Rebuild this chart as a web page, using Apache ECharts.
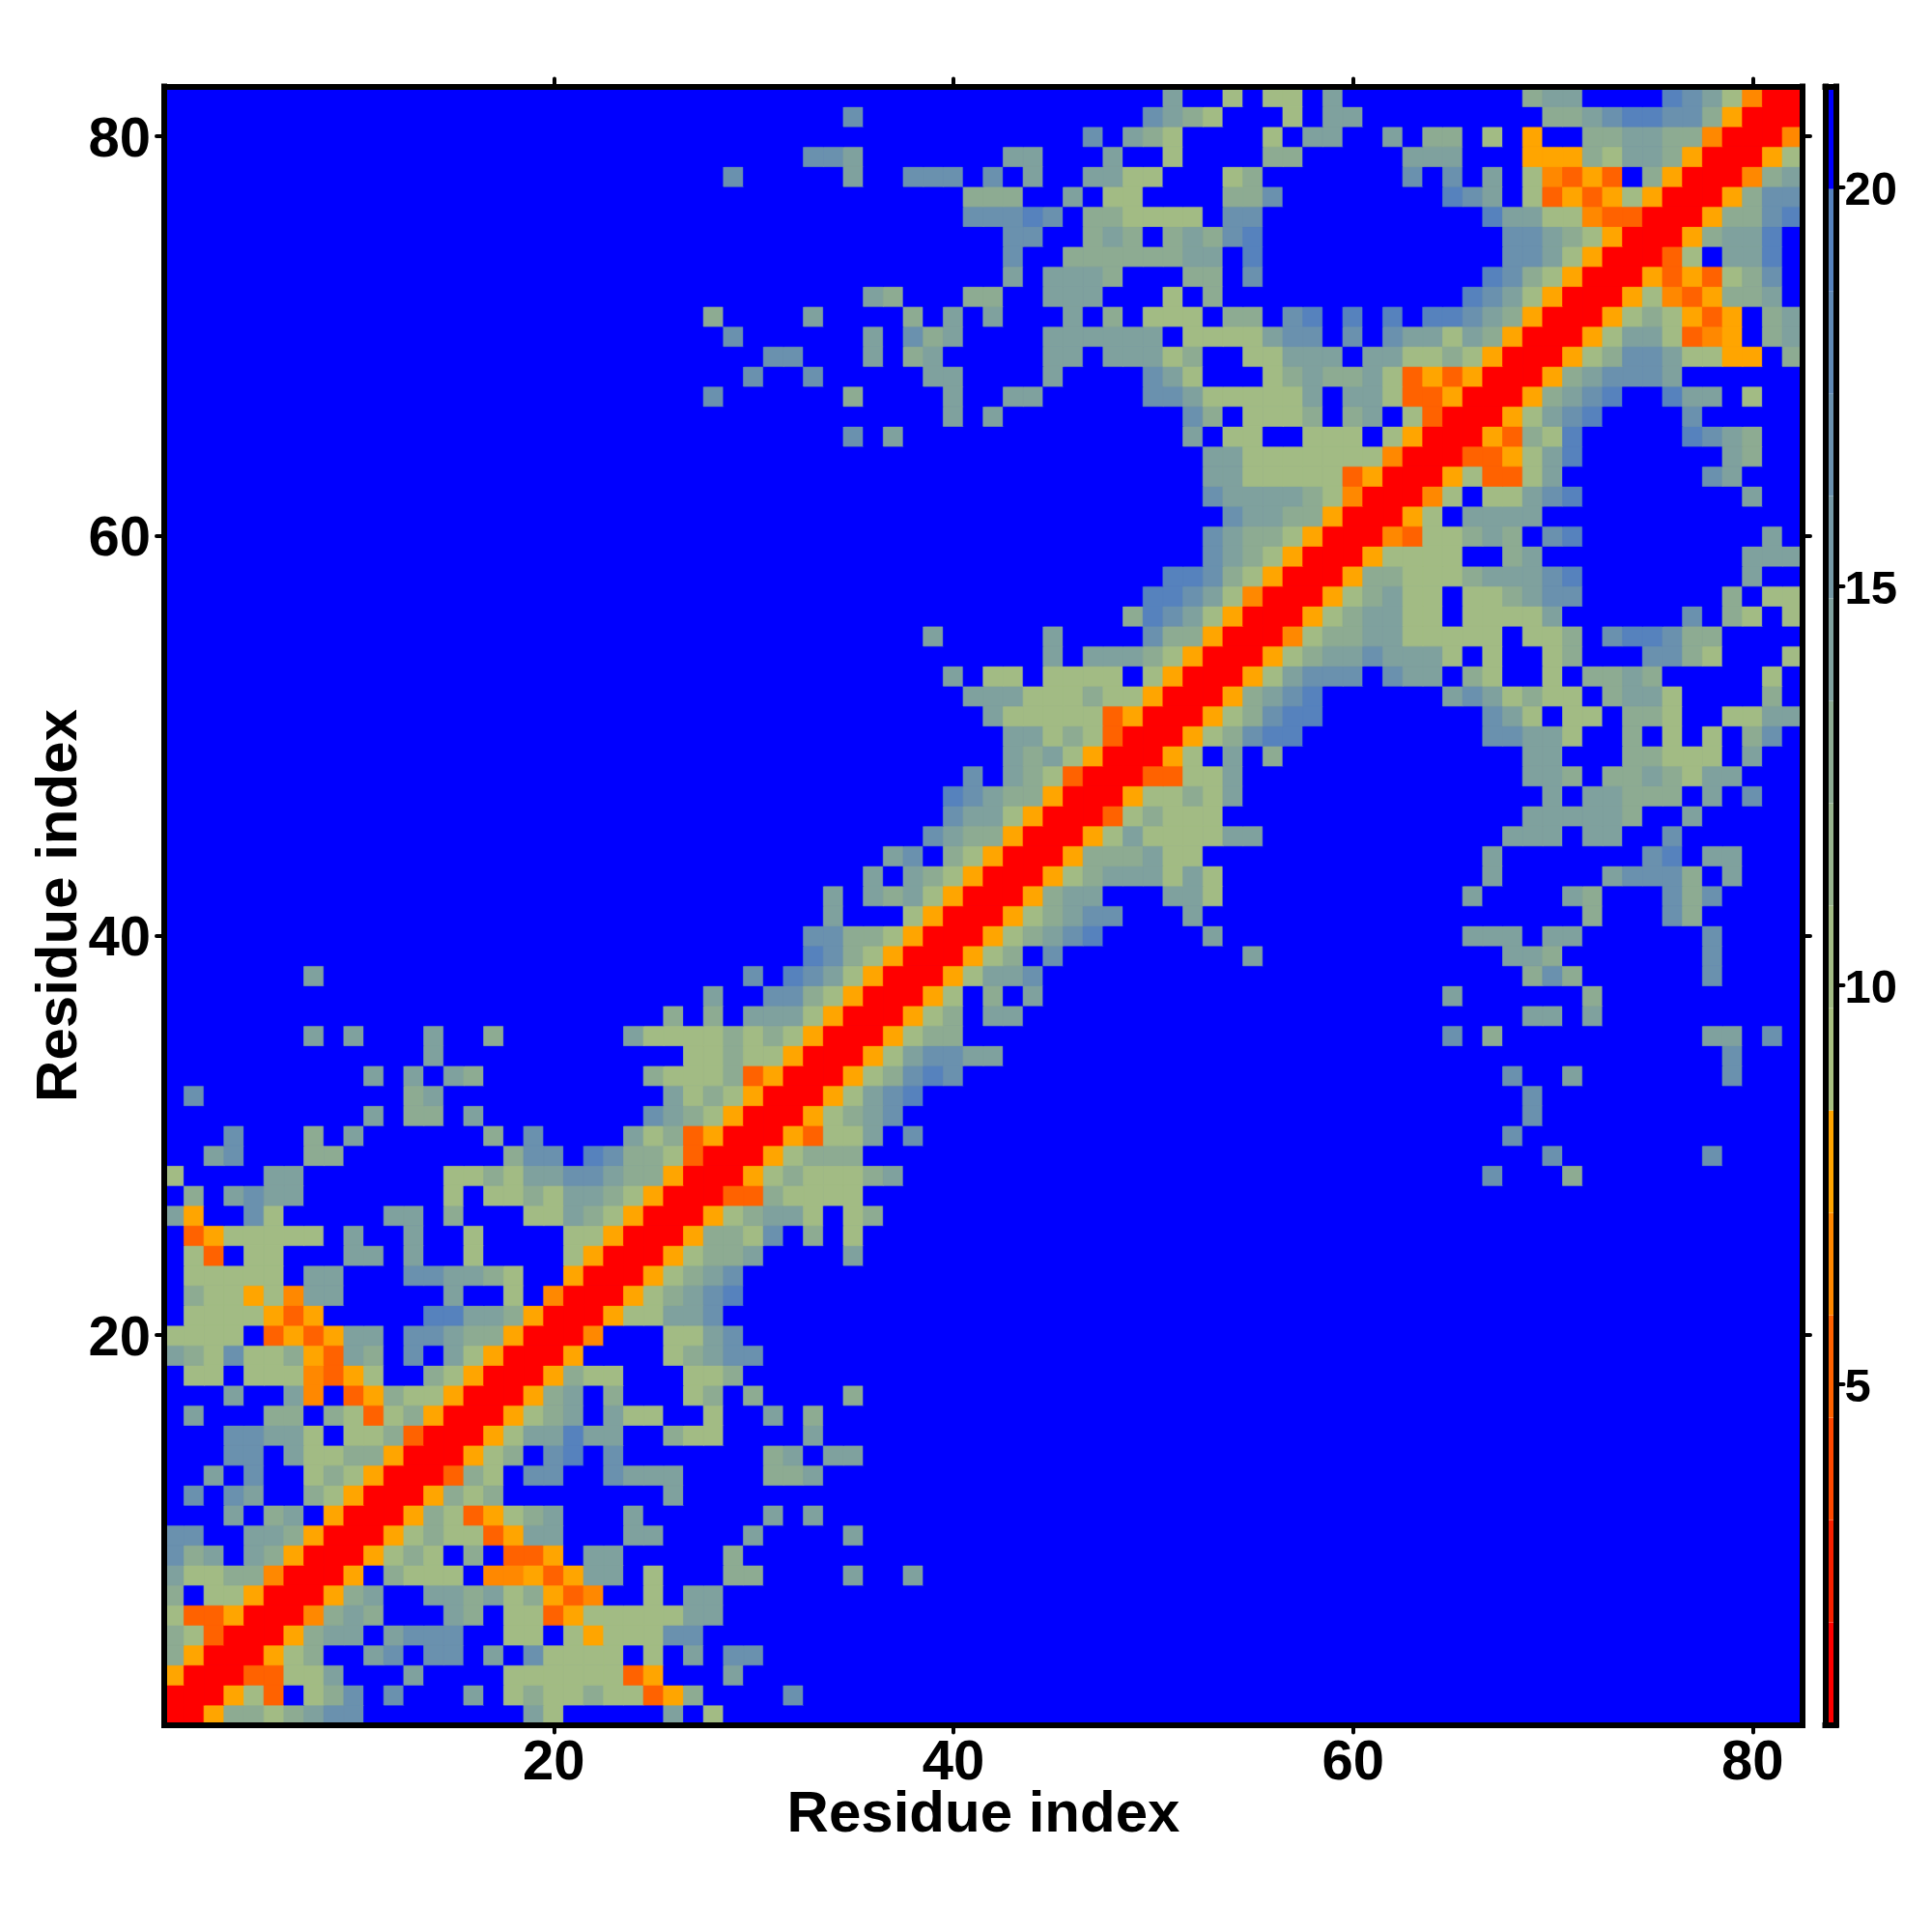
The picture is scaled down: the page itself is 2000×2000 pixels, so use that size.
<!DOCTYPE html>
<html>
<head>
<meta charset="utf-8">
<script src="https://cdn.jsdelivr.net/npm/echarts@6/dist/echarts.min.js"></script>
<style>html,body{margin:0;padding:0;background:#fff}#c{width:2000px;height:2000px}</style>
</head>
<body>
<div id="c"></div>
<script>
// Distance classes. Tokens are "<column><class letters>"; other cells are blue.
const cellRows = {
1:"1r",2:"1rr",3:"1arr",4:"1garr",5:"1gsorr",6:"1sooarr",7:"1g 3ssarr",8:"1tssggcrr",9:"1hgt 5tgarr",10:"1hh 5ttgarr",
11:"4t 6gt 9arr",12:"2h 4ht 8gsarr",13:"3t 5h 8sgsarr",14:"4hh 7tssggarr",15:"4hhtts 10ssgorr",16:"2t 6gg 9gsosgarr",
17:"4t 7tc 10oagssarr",18:"2ss 5ssscoas 14gsarr",19:"1tgshssgaotg 13h 15tsarr",20:"1ssss 6oaoatt 13hhtggarr",
21:"2ssssaoa 14iittgarr",22:"2gssasctt 15t 18s 20crr",23:"2sssss 8tt 13hhttgs 21arr",24:"2so 5ss 10tt 13t 16s 21sarr",
25:"2oasssss 10t 13t 16s 21ssarr",26:"1ta 5hs 12tt 15g 19sstgsarr",27:"2g 4thtt 15s 17ssgsttgsarr",28:"1s 6tt 15ssgstthhtggarr",
29:"3th 8gg 18ghh 22ihggsorr",30:"4h 8g 10t 17g 19h 24tsgoarr",31:"11t 13gg 16t 25htgsarr",32:"2h 13gt 26tsgsarr",
33:"11t 13t 15tg 25gsssgoarr",34:"14t 27ssgssarr",35:"8t 10t 14t 17g 24tssssgsgsarr",36:"26g 28g 30tttsarr",37:"28t 31hhgsarr",
38:"8t 30h 32ihtsarr",39:"33ihgsarr",40:"33hhggsarr",41:"34t 38sarr",42:"34t 36tgtsarr",43:"36t 38tgsarr",44:"37th 40gsarr",
45:"39htggarr",46:"40httsarr",47:"40ihtggarr",48:"41h 43tgsorr",49:"43tgtsarr",50:"43ttsgsorr",51:"42tsssssoarr",52:"41tttsssgssarr",
53:"40t 42ss 45ssss 50sarr",54:"45t 47tttgsarr",55:"39t 45t 50hggarr",56:"49gihtsarr",57:"50iihtscrr",58:"51iihgsarr",59:"53htgsarr",
60:"53htggsarr",61:"54httggarr",62:"53httttgscrr",63:"53ttsssssoarr",64:"53ttssssssscrr",65:"35h 37t 52t 54ss 58sss 62sarr",
66:"40t 42t 52hg 55sssg 60gt 63sorr",67:"28h 35g 40t 43tt 50hhtssssst 60ttsooarr",68:"30h 33h 39tt 45t 50hts 56sgtggtsoaoarr",
69:"31hh 36t 38gt 45tt 48tttsg 55ssttt 61ttssgsarr",70:"29h 36t 38hgt 45tttttt 52ssss 56thh 60h 62httstgarr",
71:"28g 33t 38g 40t 42t 46t 48g 50sss 54gg 57hi 60i 62i 64iihtgarr",72:"36tg 41gg 45ttt 51s 53g 66ihtsarr",
73:"43t 45tttg 52gg 55h 67ihgsarr",74:"43h 46ggggggtt 55i 68hhtsarr",75:"43hh 47gtg 51gtghi 68hhtgsarr",
76:"41hhhih 47ggssss 54hh 67ittsscoorr",77:"41ggg 46t 48ss 54ggh 65iht 69soaoasarr",
78:"29h 35t 38hhh 42h 44t 47ttss 54sg 63h 65h 67t 69scoao 75garr",79:"33hht 43tt 48t 51s 56gg 63ttt 69aaagsttgarr",
80:"47h 49tgs 56s 58tt 62t 64gg 67s 69a 72ggttggcrr",81:"35h 50htgs 57s 59tt 70ggthiihhgarr",82:"51t 54s 56ss 59t 69gtt 76ihtscrr"
};
const residues = Array.from({length: 82}, (_, i) => String(i + 1));
const tickLabels = ["20", "40", "60", "80"];
const colorbarLabels = [5, 10, 15, 20];
const scaleMin = 0.73;
const scaleMax = 21.26;
const levelWidth = 1.283;
const levelColors = ["#ff0000","#f82000","#ff4800","#ff6200","#ff8800","#ffa500",
  "#a8c080","#a2bb84","#97b38d","#8dab92","#7fa19e","#7599a6","#6a91ae","#6089b5","#5682bd","#0000ff"];
const classLevel = {r:0, o:3, c:4, a:5, s:7, g:9, t:10, h:12, i:14, b:15};

const classOf = {};
for (const row in cellRows) {
  for (const token of cellRows[row].split(" ")) {
    const m = token.match(/^(\d+)([a-z]+)$/);
    [...m[2]].forEach((ch, k) => {
      const col = +m[1] + k;
      classOf[col + "," + row] = ch;
      classOf[row + "," + col] = ch;
    });
  }
}
const levelMid = i => scaleMin + (i + 0.5) * levelWidth;
const heatData = [];
for (let y = 1; y <= 82; y++) for (let x = 1; x <= 82; x++) {
  const lv = classLevel[classOf[x + "," + y] || "b"];
  heatData.push({value: [x - 1, y - 1, levelMid(lv)], itemStyle: {borderColor: levelColors[lv], borderWidth: 0.7}});
}
const pieces = levelColors.map((color, i) => ({
  gte: scaleMin + i * levelWidth,
  lt: i === 15 ? 100 : scaleMin + (i + 1) * levelWidth,
  color
}));

const font = "Liberation Sans";
const frame = {show: true, onZero: false, lineStyle: {color: "#000", width: 6, cap: "square"}};
const showTick = (i, v) => tickLabels.includes(String(v));
const tick = {show: true, alignWithLabel: true, interval: showTick, length: 8,
  lineStyle: {color: "#000", width: 4, cap: "round"}};
const mainLabel = {show: true, interval: showTick, color: "#000", fontFamily: font, fontWeight: "bold", fontSize: 58};
const nameStyle = {color: "#000", fontFamily: font, fontWeight: "bold", fontSize: 60};
const catAxis = (extra) => Object.assign({type: "category", data: residues, boundaryGap: true, z: 10,
  axisLine: frame, axisTick: tick, splitLine: {show: false}, splitArea: {show: false}}, extra);
const barAxis = (pos) => ({gridIndex: 1, type: "category", data: ["scale"], position: pos, z: 10,
  axisLine: frame, axisTick: {show: false}, axisLabel: {show: false}});
const scaleAxis = (pos, ticks) => ({gridIndex: 1, type: "value", position: pos, min: scaleMin, max: scaleMax, z: 10,
  axisLine: frame, splitLine: {show: false},
  axisTick: ticks ? {show: true, customValues: colorbarLabels, length: 8, lineStyle: {color: "#000", width: 4, cap: "round"}} : {show: false},
  axisLabel: ticks ? {show: true, customValues: colorbarLabels, margin: 9, verticalAlign: "top", lineHeight: 9, color: "#000", fontFamily: font, fontWeight: "bold", fontSize: 49,
    formatter: v => String(v)} : {show: false}});

const option = {
  backgroundColor: "#fff",
  animation: false,
  grid: [
    {left: 170, top: 89.5, width: 1696, height: 1696, outerBoundsMode: "none", show: true, backgroundColor: "#0000ff", borderWidth: 0},
    {left: 1889.5, top: 89.5, width: 11, height: 1696, outerBoundsMode: "none"}
  ],
  xAxis: [
    catAxis({gridIndex: 0, position: "bottom", axisLabel: Object.assign({margin: 11}, mainLabel),
      name: "Residue index", nameLocation: "middle", nameGap: 64, nameMoveOverlap: false, nameTextStyle: nameStyle}),
    catAxis({gridIndex: 0, position: "top", axisLabel: {show: false}}),
    barAxis("bottom"),
    barAxis("top")
  ],
  yAxis: [
    catAxis({gridIndex: 0, position: "left", axisLabel: Object.assign({margin: 14, verticalAlign: "top", lineHeight: 9}, mainLabel),
      name: "Residue index", nameLocation: "middle", nameGap: 78, nameMoveOverlap: false, nameTextStyle: nameStyle}),
    catAxis({gridIndex: 0, position: "right", axisLabel: {show: false}}),
    scaleAxis("left", false),
    scaleAxis("right", true)
  ],
  visualMap: {type: "piecewise", show: false, seriesIndex: 0, dimension: 2, pieces},
  series: [
    {type: "heatmap", xAxisIndex: 0, yAxisIndex: 0, data: heatData, progressive: 0,
      itemStyle: {borderWidth: 0}, emphasis: {disabled: true}},
    ...levelColors.map((color, i) => ({
      type: "bar", xAxisIndex: 2, yAxisIndex: 2, stack: "scale", barWidth: "100%",
      data: [i === 0 ? scaleMin + levelWidth : levelWidth],
      itemStyle: {color}, silent: true
    }))
  ]
};
const chart = echarts.init(document.getElementById("c"), null, {renderer: "canvas"});
chart.setOption(option);
</script>
</body>
</html>
